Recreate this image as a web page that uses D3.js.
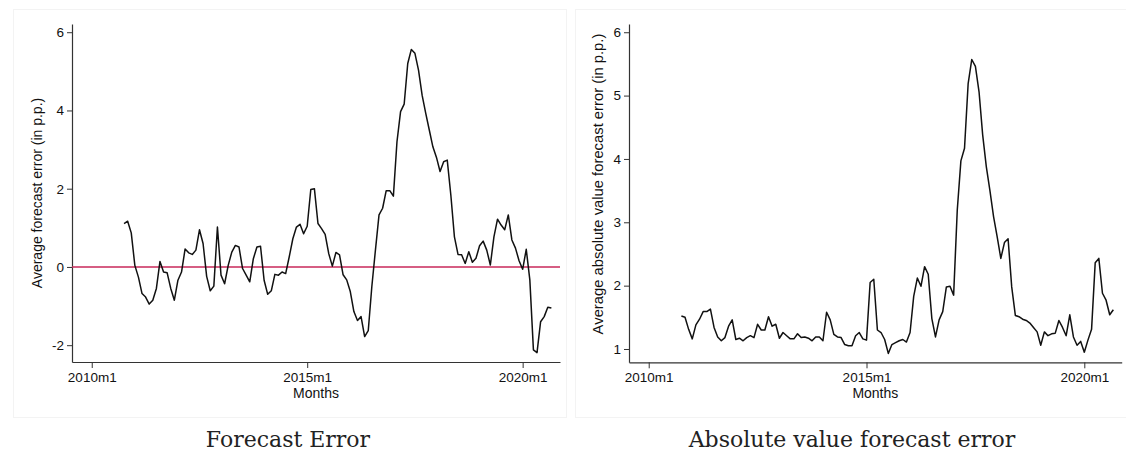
<!DOCTYPE html>
<html>
<head>
<meta charset="utf-8">
<script src="https://cdn.jsdelivr.net/npm/d3@7"></script>
<style>
  html, body { margin: 0; padding: 0; background: #fff; }
  svg { display: block; }
  .tick text { font-family: "Liberation Sans", Arial, sans-serif; }
</style>
</head>
<body>
<svg id="chart" width="1126" height="460"></svg>
<script>
// Monthly series, first observation 2010m10 (month index 9, counted from 2010m1 = 0)
const startMonth = 9;

// Average forecast error (in p.p.)
const forecastError = [
  1.11, 1.17, 0.87, 0.04, -0.26, -0.68, -0.77, -0.95, -0.85, -0.55,
  0.14, -0.13, -0.15, -0.55, -0.85, -0.34, -0.13, 0.46, 0.36, 0.32,
  0.43, 0.95, 0.60, -0.24, -0.61, -0.49, 1.02, -0.21, -0.43, 0.04,
  0.38, 0.55, 0.51, -0.04, -0.21, -0.38, 0.21, 0.51, 0.53, -0.34,
  -0.70, -0.61, -0.19, -0.21, -0.13, -0.17, 0.26, 0.72, 1.02, 1.09,
  0.85, 1.04, 1.98, 2.00, 1.11, 0.98, 0.83, 0.34, 0.02, 0.37,
  0.31, -0.20, -0.33, -0.63, -1.14, -1.37, -1.27, -1.78, -1.63, -0.50,
  0.43, 1.33, 1.50, 1.95, 1.95, 1.81, 3.20, 3.97, 4.16, 5.20,
  5.56, 5.46, 5.03, 4.39, 3.93, 3.50, 3.07, 2.80, 2.44, 2.69,
  2.73, 1.84, 0.77, 0.32, 0.31, 0.09, 0.39, 0.12, 0.22, 0.54,
  0.66, 0.43, 0.05, 0.77, 1.22, 1.07, 0.95, 1.33, 0.69, 0.48,
  0.16, -0.06, 0.45, -0.33, -2.12, -2.19, -1.40, -1.27, -1.03, -1.05
];

// Average absolute value forecast error (in p.p.)
const absForecastError = [
  1.52, 1.50, 1.31, 1.16, 1.38, 1.47, 1.59, 1.59, 1.63, 1.34,
  1.19, 1.13, 1.18, 1.36, 1.46, 1.15, 1.17, 1.13, 1.18, 1.21,
  1.18, 1.39, 1.30, 1.30, 1.51, 1.36, 1.39, 1.17, 1.26, 1.21,
  1.16, 1.16, 1.24, 1.18, 1.19, 1.17, 1.13, 1.19, 1.19, 1.13,
  1.58, 1.46, 1.23, 1.19, 1.18, 1.07, 1.05, 1.05, 1.21, 1.26,
  1.16, 1.14, 2.05, 2.10, 1.30, 1.26, 1.15, 0.93, 1.07, 1.10,
  1.13, 1.15, 1.11, 1.26, 1.83, 2.12, 1.99, 2.30, 2.18, 1.48,
  1.19, 1.46, 1.59, 1.98, 1.99, 1.85, 3.19, 3.97, 4.17, 5.19,
  5.57, 5.46, 5.06, 4.38, 3.88, 3.50, 3.09, 2.77, 2.43, 2.68,
  2.74, 1.98, 1.53, 1.51, 1.47, 1.45, 1.41, 1.34, 1.27, 1.06,
  1.27, 1.21, 1.24, 1.25, 1.45, 1.34, 1.21, 1.54, 1.19, 1.06,
  1.12, 0.95, 1.14, 1.31, 2.36, 2.43, 1.88, 1.77, 1.54, 1.62
];

// Axis ticks
const xTickMonths = [0, 60, 120];
const xTickLabels = ["2010m1", "2015m1", "2020m1"];
const yTicksLeft = [-2, 0, 2, 4, 6];
const yTicksRight = [1, 2, 3, 4, 5, 6];

const svg = d3.select("#chart");
const FONT = '"Liberation Sans", Arial, sans-serif';

function panel(cfg) {
  const g = svg.append("g");

  // faint outer frame of the graph region
  g.append("rect")
    .attr("x", cfg.frame[0] + 0.5).attr("y", cfg.frame[1] + 0.5)
    .attr("width", cfg.frame[2]).attr("height", cfg.frame[3])
    .attr("fill", "none").attr("stroke", "#f3f3f3").attr("stroke-width", 1);

  const x = d3.scaleLinear().domain(cfg.xDomain).range(cfg.xRange);
  const y = d3.scaleLinear().domain(cfg.yDomain).range(cfg.yRange);

  // y axis (plain hyphen for negatives)
  const yAxis = g.append("g")
    .attr("transform", `translate(${cfg.xRange[0]},0)`)
    .call(d3.axisLeft(y).tickValues(cfg.yTicks).tickSize(5).tickSizeOuter(0).tickPadding(3)
      .tickFormat(d => String(d)));
  // x axis
  const xAxis = g.append("g")
    .attr("transform", `translate(0,${cfg.yRange[0]})`)
    .call(d3.axisBottom(x).tickValues(xTickMonths).tickSize(6).tickSizeOuter(0).tickPadding(4)
      .tickFormat((d, i) => xTickLabels[i]));

  [yAxis, xAxis].forEach(a => {
    a.select(".domain").attr("stroke", "#333").attr("stroke-width", 1.2);
    a.selectAll(".tick line").attr("stroke", "#333").attr("stroke-width", 1);
    a.selectAll(".tick text").attr("fill", "#111").style("font-size", "13.5px").style("font-family", FONT);
  });

  // reference line at zero
  if (cfg.zeroLine) {
    g.append("line")
      .attr("x1", cfg.xRange[0]).attr("x2", cfg.xRange[1])
      .attr("y1", y(0)).attr("y2", y(0))
      .attr("stroke", "#c8285a").attr("stroke-width", 1.4);
  }

  // series line
  const line = d3.line()
    .x((d, i) => x(startMonth + i))
    .y(d => y(d));
  g.append("path")
    .datum(cfg.values)
    .attr("d", line)
    .attr("fill", "none")
    .attr("stroke", "#111")
    .attr("stroke-width", 1.5)
    .attr("stroke-linejoin", "round");

  // axis titles
  g.append("text")
    .attr("transform", `translate(${cfg.yTitleX},${cfg.yTitleY}) rotate(-90)`)
    .attr("text-anchor", "middle")
    .style("font-family", FONT).style("font-size", cfg.yTitleSize)
    .attr("fill", "#111")
    .text(cfg.yTitle);

  g.append("text")
    .attr("x", (cfg.xRange[0] + cfg.xRange[1]) / 2)
    .attr("y", 398)
    .attr("text-anchor", "middle")
    .style("font-family", FONT).style("font-size", "14px")
    .attr("fill", "#111")
    .text("Months");

  // caption below the panel
  svg.append("text")
    .attr("x", cfg.captionX)
    .attr("y", 447)
    .attr("text-anchor", "middle")
    .style("font-family", '"DejaVu Serif", "Liberation Serif", serif')
    .style("font-size", "22px")
    .attr("fill", "#222")
    .text(cfg.caption);
}

panel({
  frame: [13, 9, 553, 408],
  xDomain: [-5.5, 130.4], xRange: [72, 560],
  yDomain: [-2.43, 6.21], yRange: [362, 24],
  yTicks: yTicksLeft,
  values: forecastError,
  zeroLine: true,
  yTitle: "Average forecast error (in p.p.)",
  yTitleX: 42, yTitleY: 193, yTitleSize: "14px",
  caption: "Forecast Error", captionX: 288
});

panel({
  frame: [575, 9, 560, 408],
  xDomain: [-5.43, 130.3], xRange: [629, 1121.7],
  yDomain: [0.79, 6.13], yRange: [362.3, 24],
  yTicks: yTicksRight,
  values: absForecastError,
  zeroLine: false,
  yTitle: "Average absolute value forecast error (in p.p.)",
  yTitleX: 603, yTitleY: 184, yTitleSize: "14.8px",
  caption: "Absolute value forecast error", captionX: 852
});
</script>
</body>
</html>
